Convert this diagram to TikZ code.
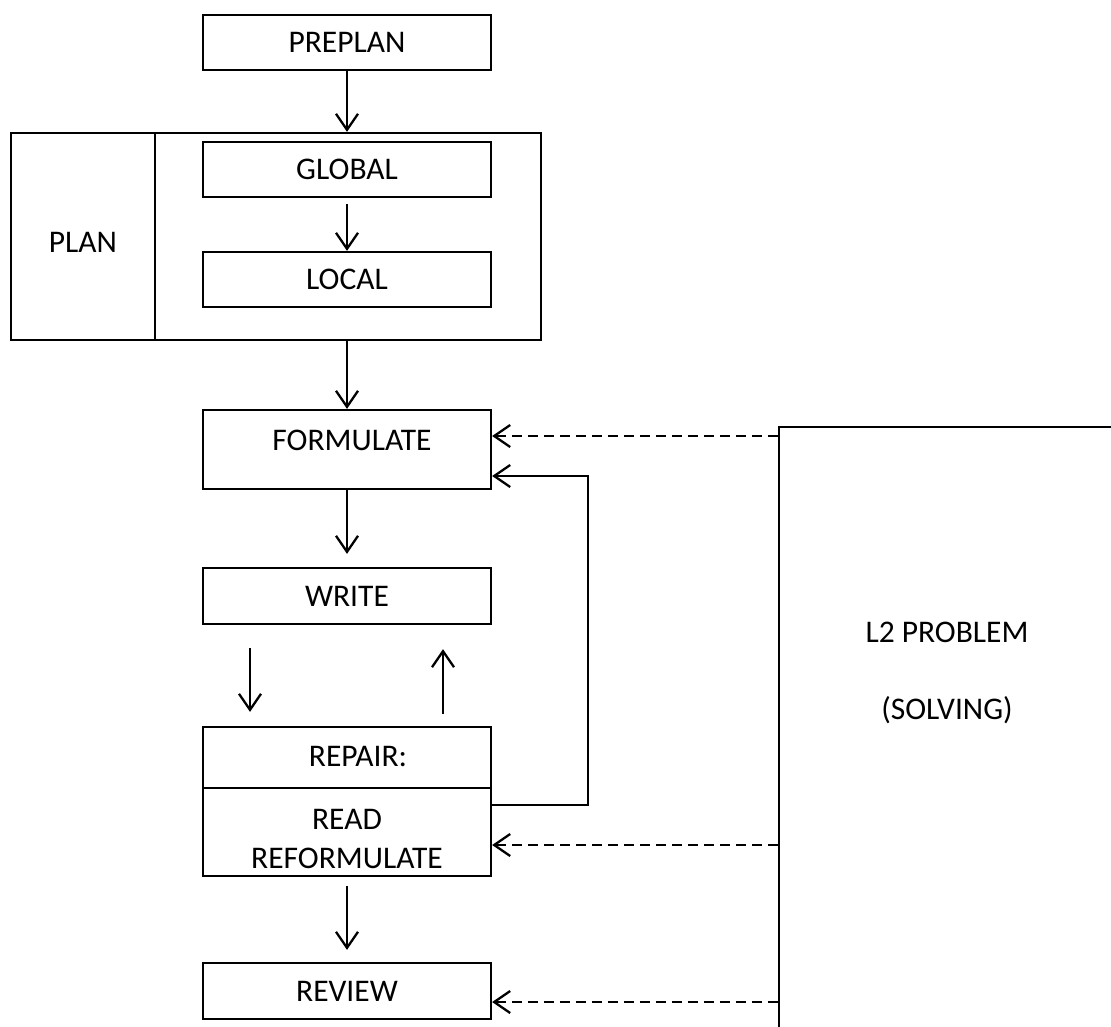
\documentclass[tikz,border=0pt]{standalone}
\usepackage{fontspec}
\setmainfont{Carlito}
\usetikzlibrary{arrows.meta}

\begin{document}
\begin{tikzpicture}[x=1pt,y=-1pt,
  lbl/.style={inner sep=0pt, font=\fontsize{31.5}{39}\selectfont, align=center},
  box/.style={draw, line width=2.3pt, rectangle, lbl},
  wide/.style={box, minimum width=288pt},
  arr/.style={line width=2.3pt, -{Straight Barb[length=16pt,width=22pt,line width=2.3pt]}},
  darr/.style={arr, dash pattern=on 10pt off 6pt}]
\useasboundingbox (0,0) rectangle (1111,1026);
\clip (0,0) rectangle (1111,1026);

% planning stages
\node[wide, minimum height=55pt] (preplan) at (347,42.5) {PREPLAN};
\node[box, minimum width=530pt, minimum height=207pt] (plan) at (276,236.5) {};
\draw[line width=2.3pt] ([xshift=145pt]plan.north west) -- ([xshift=145pt]plan.south west);
\node[lbl] (planLabel) at (83,242) {PLAN};
\node[wide, minimum height=55pt] (global) at (347,169.5) {GLOBAL};
\node[wide, minimum height=55pt] (local) at (347,279.5) {LOCAL};

% writing stages
\node[wide, minimum height=79pt] (formulate) at (347,449.5) {};
\node[lbl] (formulateText) at (352,440) {FORMULATE};
\node[wide, minimum height=56pt] (write) at (347,596) {WRITE};
\node[wide, minimum height=61pt] (repair) at (347,757.5) {};
\node[lbl] (repairText) at (358,757) {REPAIR:};
\node[wide, minimum height=88pt] (read) at (347,832) {};
\node[lbl] (readText) at (347,839) {READ\\REFORMULATE};
\node[wide, minimum height=56pt] (review) at (347,991) {REVIEW};

% L2 problem solving panel
\node[box, minimum width=351pt, minimum height=613pt] (l2) at (954.5,733.5) {};
\node[lbl] (l2Title) at (947,632) {L2 PROBLEM};
\node[lbl] (l2Sub) at (947,710) {(SOLVING)};

% main flow
\draw[arr] (preplan.south) -- (preplan.south |- plan.north);
\draw[arr, shorten <=6pt] (global) -- (local);
\draw[arr] (formulate.north |- plan.south) -- (formulate.north);
\draw[arr, shorten >=13pt] (formulate) -- (write);
\draw[arr, shorten <=23pt, shorten >=14pt] ([xshift=-97pt]write.south) -- ([xshift=-97pt]repair.north);
\draw[arr, shorten <=12pt, shorten >=24pt] ([xshift=96pt]repair.north) -- ([xshift=96pt]write.south);
\draw[arr, shorten <=9pt, shorten >=12pt] (read) -- (review);

% loop back from repair to formulate
\coordinate (fbOut) at ([yshift=27pt]read.east);
\coordinate (fbIn) at ([yshift=-26.5pt]formulate.east);
\draw[arr] (fbOut) -- ++(96,0) |- (fbIn);

% influence of L2 problem solving
\coordinate (dForm) at ([yshift=13.5pt]formulate.east);
\coordinate (dRead) at ([yshift=-13pt]read.east);
\coordinate (dRev) at ([yshift=-11pt]review.east);
\draw[darr] (l2.west |- dForm) -- (dForm);
\draw[darr] (l2.west |- dRead) -- (dRead);
\draw[darr] (l2.west |- dRev) -- (dRev);
\end{tikzpicture}
\end{document}
